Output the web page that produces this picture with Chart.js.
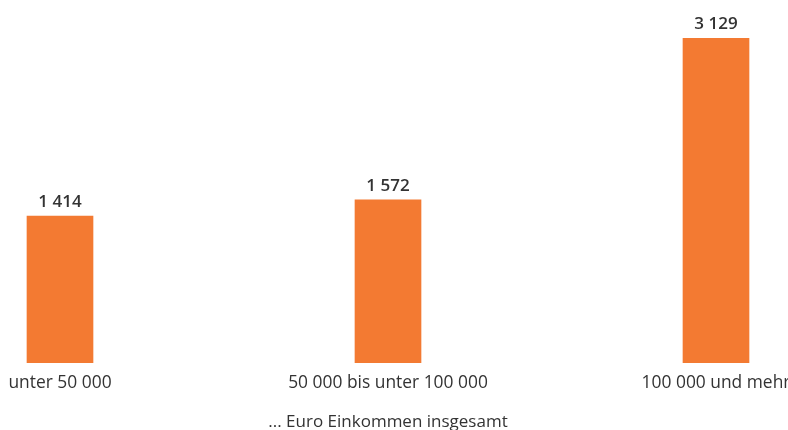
<!DOCTYPE html>
<html lang="de">
<head>
<meta charset="utf-8">
<title>Einkommen</title>
<script src="https://cdn.jsdelivr.net/npm/chart.js@4"></script>
<style>
    html, body { margin: 0; padding: 0; background: #fff; }
    #wrap { width: 788px; height: 430px; }
</style>
</head>
<body>
<div id="wrap"><canvas id="incomeChart"></canvas></div>
<script>
// Einkommensklassen und Werte
const categories = ['unter 50 000', '50 000 bis unter 100 000', '100 000 und mehr'];
const values = [1414, 1572, 3129];
const axisTitle = '... Euro Einkommen insgesamt';

const barColor = '#F37A32';
const textColor = '#333333';

function formatValue(v) {
    return String(v).replace(/\B(?=(\d{3})+(?!\d))/g, ' ');
}

// Werte über den Balken schreiben
const valueLabels = {
    id: 'valueLabels',
    afterDatasetsDraw(chart) {
        const ctx = chart.ctx;
        const meta = chart.getDatasetMeta(0);
        ctx.save();
        ctx.font = '600 17px "Open Sans", sans-serif';
        ctx.fillStyle = textColor;
        ctx.textAlign = 'center';
        ctx.textBaseline = 'alphabetic';
        meta.data.forEach(function(bar, i) {
            ctx.fillText(formatValue(values[i]), bar.x, bar.y - 9);
        });
        ctx.restore();
    }
};

document.addEventListener('DOMContentLoaded', function() {
    const ctx = document.getElementById('incomeChart').getContext('2d');
    new Chart(ctx, {
        type: 'bar',
        data: {
            labels: categories,
            datasets: [{
                data: values,
                backgroundColor: barColor,
                borderWidth: 0,
                barThickness: 66,
                clip: false
            }]
        },
        options: {
            responsive: true,
            maintainAspectRatio: false,
            animation: false,
            layout: {
                padding: { left: 60, right: 72, top: 0, bottom: 0 }
            },
            plugins: {
                legend: { display: false },
                tooltip: { enabled: false }
            },
            scales: {
                x: {
                    offset: false,
                    grid: { display: false },
                    border: { display: false },
                    ticks: {
                        padding: 2,
                        color: textColor,
                        maxRotation: 0,
                        autoSkip: false,
                        font: { family: '"Open Sans", sans-serif', size: 17.4 }
                    },
                    title: {
                        display: true,
                        text: axisTitle,
                        color: textColor,
                        padding: { top: 16, bottom: -2 },
                        font: { family: '"Open Sans", sans-serif', size: 17 }
                    },
                    afterFit: function(scale) {
                        scale.paddingLeft = 0;
                        scale.paddingRight = 0;
                    }
                },
                y: {
                    display: false,
                    min: 0,
                    max: 3500
                }
            }
        },
        plugins: [valueLabels]
    });
});
</script>
</body>
</html>
